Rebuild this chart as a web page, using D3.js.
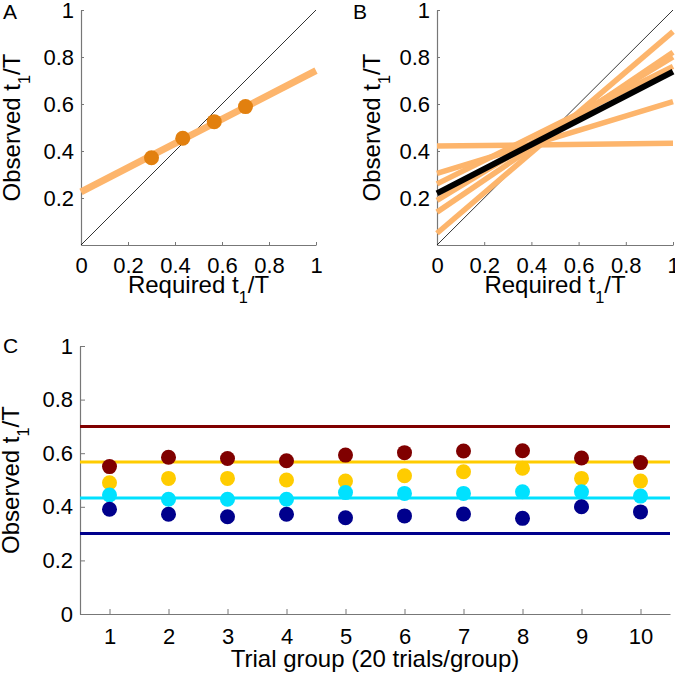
<!DOCTYPE html>
<html><head><meta charset="utf-8">
<script src="https://cdn.jsdelivr.net/npm/d3@7/dist/d3.min.js"></script>
<style>
body{margin:0;background:#fff;}
svg{display:block;font-family:"Liberation Sans",Arial,Helvetica,sans-serif;}
.axis path,.axis line{stroke:#777;}
.axis text{fill:#000;font-size:22px;font-family:"Liberation Sans",Arial,sans-serif;}
</style></head><body>
<script>
// ---------- DATA ----------
const ticksUnit = [0, 0.2, 0.4, 0.6, 0.8, 1];
const tickLabelsUnit = ["0", "0.2", "0.4", "0.6", "0.8", "1"];
const yTicksAB = [0.2, 0.4, 0.6, 0.8, 1];
const yTickLabelsAB = ["0.2", "0.4", "0.6", "0.8", "1"];

// Panel A
const requiredA = [0.3, 0.433, 0.567, 0.7];
const observedA = [0.371, 0.454, 0.525, 0.589];
const fitX = [0, 1];
const fitA = [0.226, 0.742];

// Panel B (individual fits: value at x=0, value at x=1)
const subjStart = [0.05, 0.14, 0.19, 0.26, 0.305, 0.421];
const subjEnd   = [0.908, 0.82, 0.80, 0.76, 0.61, 0.433];
const meanFitB  = [0.22, 0.738];

// Panel C
const groups = [1, 2, 3, 4, 5, 6, 7, 8, 9, 10];
const requiredC = [0.7, 0.567, 0.433, 0.3];
const colorsC = ["#800000", "#FFCC00", "#00E1FF", "#00008C"];
const obs070 = [0.550, 0.585, 0.580, 0.572, 0.593, 0.602, 0.608, 0.609, 0.582, 0.565];
const obs057 = [0.490, 0.506, 0.506, 0.500, 0.496, 0.516, 0.531, 0.544, 0.506, 0.496];
const obs043 = [0.444, 0.428, 0.428, 0.428, 0.453, 0.450, 0.450, 0.456, 0.456, 0.440];
const obs030 = [0.391, 0.372, 0.363, 0.372, 0.359, 0.366, 0.373, 0.357, 0.400, 0.381];
const seriesC = [obs070, obs057, obs043, obs030];
const yTicksC = [0, 0.2, 0.4, 0.6, 0.8, 1];
const yTickLabelsC = ["0", "0.2", "0.4", "0.6", "0.8", "1"];

const lightOrange = "#FDB56C";
const darkOrange = "#E2800F";

// ---------- DRAW ----------
const svg = d3.select("body").append("svg").attr("width", 675).attr("height", 674);

function labelWithSub(g, pre, post, fs) {
  g.append("tspan").text(pre);
  g.append("tspan").attr("dy", 10).attr("font-size", fs * 0.68).text("1");
  g.append("tspan").attr("dy", -10).text(post);
}

function drawAxes(x, y, xt, xl, yt, yl, tickLen, xpad, ypad) {
  const ax = svg.append("g").attr("class", "axis")
    .attr("transform", `translate(0,${y.range()[0]})`)
    .call(d3.axisBottom(x).tickValues(xt).tickFormat((d, i) => xl[i])
      .tickSizeInner(-tickLen).tickSizeOuter(0).tickPadding(xpad));
  const ay = svg.append("g").attr("class", "axis")
    .attr("transform", `translate(${x.range()[0]},0)`)
    .call(d3.axisLeft(y).tickValues(yt).tickFormat((d, i) => yl[i])
      .tickSizeInner(-tickLen).tickSizeOuter(0).tickPadding(ypad));
  [ax, ay].forEach(a => { a.select(".domain").attr("stroke-width", 1.2); a.selectAll("text").attr("font-size", 22); });
}

function xLabel(xc, yb, pre, post) {
  const t = svg.append("text").attr("x", xc).attr("y", yb).attr("text-anchor", "middle")
    .attr("font-size", 24);
  labelWithSub(t, pre, post, 24);
}
function yLabel(xb, yc) {
  const t = svg.append("text").attr("transform", `translate(${xb},${yc}) rotate(-90)`)
    .attr("text-anchor", "middle").attr("font-size", 24);
  labelWithSub(t, "Observed t", "/T", 24);
}
function panelLetter(x, y, s) {
  svg.append("text").attr("x", x).attr("y", y).attr("font-size", 21).text(s);
}

// Panel A
const xA = d3.scaleLinear().domain([0, 1]).range([81, 316]);
const yA = d3.scaleLinear().domain([0, 1]).range([245, 10]);
drawAxes(xA, yA, ticksUnit, tickLabelsUnit, yTicksAB, yTickLabelsAB, 3, 12, 7);
svg.append("line").attr("x1", xA(0)).attr("y1", yA(0)).attr("x2", xA(1)).attr("y2", yA(1))
  .attr("stroke", "#000").attr("stroke-width", 0.8);
svg.append("path").datum(fitX.map((d, i) => [d, fitA[i]]))
  .attr("d", d3.line().x(d => xA(d[0])).y(d => yA(d[1])))
  .attr("stroke", lightOrange).attr("stroke-width", 7).attr("fill", "none");
svg.selectAll(".dotA").data(requiredA).enter().append("circle")
  .attr("cx", d => xA(d)).attr("cy", (d, i) => yA(observedA[i])).attr("r", 7.5)
  .attr("fill", darkOrange);
xLabel(198.5, 293, "Required t", "/T");
yLabel(20, 127.5);
panelLetter(3, 19, "A");

// Panel B
const xB = d3.scaleLinear().domain([0, 1]).range([437, 673]);
const yB = d3.scaleLinear().domain([0, 1]).range([245, 10]);
drawAxes(xB, yB, ticksUnit, tickLabelsUnit, yTicksAB, yTickLabelsAB, 3, 12, 7);
svg.append("line").attr("x1", xB(0)).attr("y1", yB(0)).attr("x2", xB(1)).attr("y2", yB(1))
  .attr("stroke", "#000").attr("stroke-width", 0.8);
const lineB = d3.line().x(d => xB(d[0])).y(d => yB(d[1]));
subjStart.forEach((s, i) => {
  svg.append("path").datum([[fitX[0], s], [fitX[1], subjEnd[i]]]).attr("d", lineB)
    .attr("stroke", lightOrange).attr("stroke-width", 5.5).attr("fill", "none");
});
svg.append("path").datum(fitX.map((d, i) => [d, meanFitB[i]])).attr("d", lineB)
  .attr("stroke", "#000").attr("stroke-width", 6).attr("fill", "none");
xLabel(555, 293, "Required t", "/T");
yLabel(380, 127.5);
panelLetter(353, 19, "B");

// Panel C
const xC = d3.scaleLinear().domain([0.5, 10.5]).range([80, 670]);
const yC = d3.scaleLinear().domain([0, 1]).range([614, 346]);
drawAxes(xC, yC, groups, groups.map(String), yTicksC, yTickLabelsC, 5, 14, 7);
requiredC.forEach((r, i) => {
  svg.append("line").attr("x1", xC(0.5)).attr("x2", xC(10.5)).attr("y1", yC(r)).attr("y2", yC(r))
    .attr("stroke", colorsC[i]).attr("stroke-width", 3);
});
seriesC.forEach((s, k) => {
  svg.selectAll(".dc" + k).data(s).enter().append("circle")
    .attr("cx", (d, i) => xC(groups[i])).attr("cy", d => yC(d)).attr("r", 7.5)
    .attr("fill", colorsC[k]);
});
svg.append("text").attr("x", 375).attr("y", 667).attr("text-anchor", "middle")
  .attr("font-size", 24).text("Trial group (20 trials/group)");
yLabel(19, 480);
panelLetter(3, 353, "C");
</script>
</body></html>
